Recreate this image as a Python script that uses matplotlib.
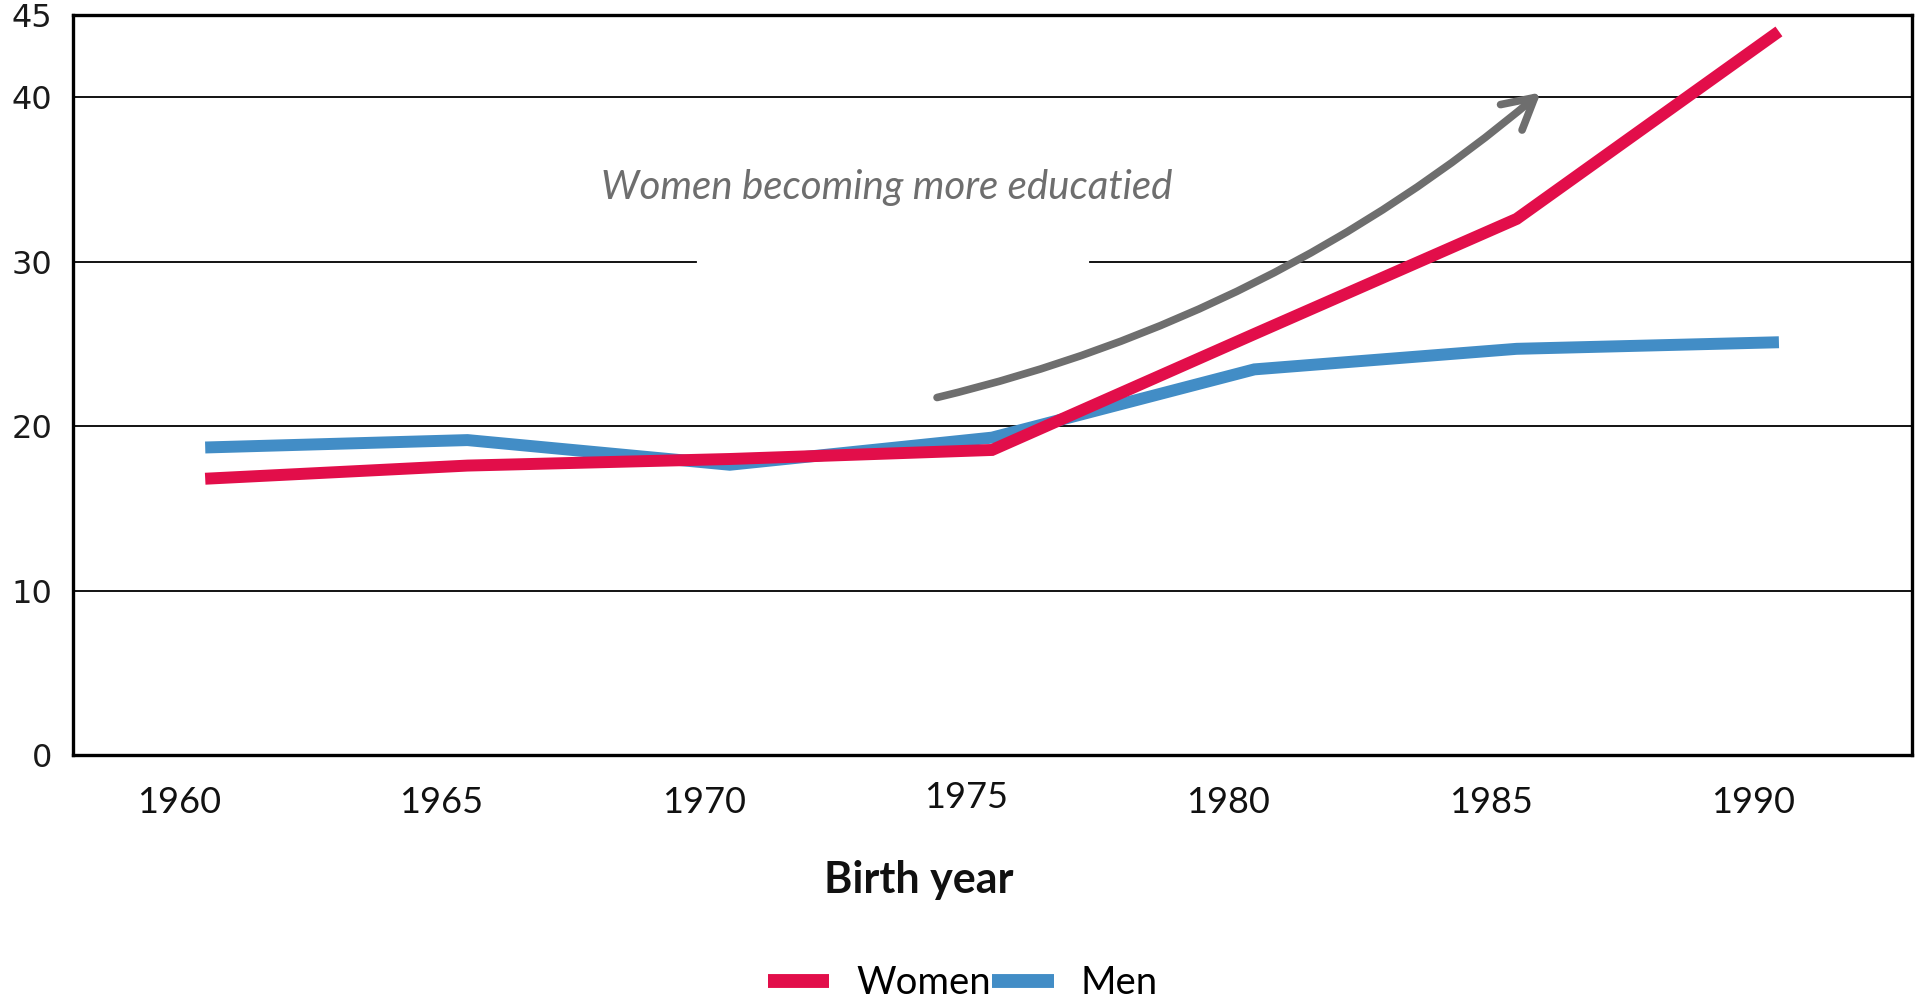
import matplotlib
matplotlib.use("Agg")
import matplotlib.pyplot as plt
from matplotlib.transforms import ScaledTranslation
from matplotlib.lines import Line2D
from matplotlib.patches import FancyArrowPatch

# ---- data ----
years = [1960, 1965, 1970, 1975, 1980, 1985, 1990]
women = [16.8, 17.6, 18.0, 18.55, 25.6, 32.6, 44.0]
men = [18.7, 19.15, 17.65, 19.3, 23.45, 24.7, 25.1]
y_ticks = [0, 10, 20, 30, 40, 45]
grid_full = [10, 20, 40]
grid_split = 30
annotation = "Women becoming more educatied"
x_label = "Birth year"
series_names = ["Women", "Men"]

RED = "#E20E4A"
BLUE = "#428DC6"
GRAY = "#6E6E6E"

fig = plt.figure(figsize=(19.16, 10), dpi=100)
ax = fig.add_axes([0.0381, 0.245, 0.9599, 0.740])

ax.set_xlim(1957.48, 1992.54)
ax.set_ylim(0, 45)

# gridlines
for g in grid_full:
    ax.axhline(g, color="black", lw=1.3, zorder=1)
ax.axhline(grid_split, xmin=0, xmax=0.339, color="black", lw=1.3, zorder=1)
ax.axhline(grid_split, xmin=0.553, xmax=1, color="black", lw=1.3, zorder=1)

# series
ax.plot(years, men, color=BLUE, lw=8.6, solid_capstyle="butt",
        solid_joinstyle="miter", zorder=3)
ax.plot(years, women, color=RED, lw=8.6, solid_capstyle="butt",
        solid_joinstyle="miter", zorder=4)

# frame
for s in ax.spines.values():
    s.set_linewidth(2.4)
    s.set_color("black")

# y ticks
ax.set_yticks(y_ticks)
ax.set_yticklabels([str(v) for v in y_ticks], fontfamily="DejaVu Sans",
                   fontsize=23, color="#1a1a1a")
ax.tick_params(axis="y", length=0, pad=15)

# x ticks
ax.set_xticks(years)
ax.set_xticklabels([str(y) for y in years], fontfamily="Lato", fontsize=26,
                   color="#111111")
ax.tick_params(axis="x", length=0, pad=22)
for lab, yr in zip(ax.get_xticklabels(), years):
    dy = 0.05 if yr == 1975 else 0.0
    lab.set_transform(lab.get_transform() +
                      ScaledTranslation(-0.26, dy, fig.dpi_scale_trans))

ax.set_xlabel(x_label, fontfamily="Lato", fontweight="bold", fontsize=31,
              color="#111111")
ax.xaxis.set_label_coords(0.4601, -0.142)

# annotation
ax.text(1973.0, 34.5, annotation, fontfamily="Lato", style="italic",
        fontsize=29, color=GRAY, ha="center", va="center", zorder=5)
arrow = FancyArrowPatch((1973.9, 21.7), (1985.5, 40.4),
                        connectionstyle="arc3,rad=0.12",
                        arrowstyle="->,head_length=22,head_width=12",
                        color=GRAY, lw=5.5, zorder=5)
ax.add_patch(arrow)

# legend
handles = [Line2D([0], [0], color=RED, lw=10, solid_capstyle="butt"),
           Line2D([0], [0], color=BLUE, lw=10, solid_capstyle="butt")]
leg = fig.legend(handles, series_names, loc="center", ncol=2,
                 bbox_to_anchor=(0.5025, 0.017), frameon=False,
                 prop={"family": "Lato", "size": 27.5},
                 handlelength=1.6, handletextpad=0.7, columnspacing=0.05)

fig.savefig("out.png", dpi=100, facecolor="white")
